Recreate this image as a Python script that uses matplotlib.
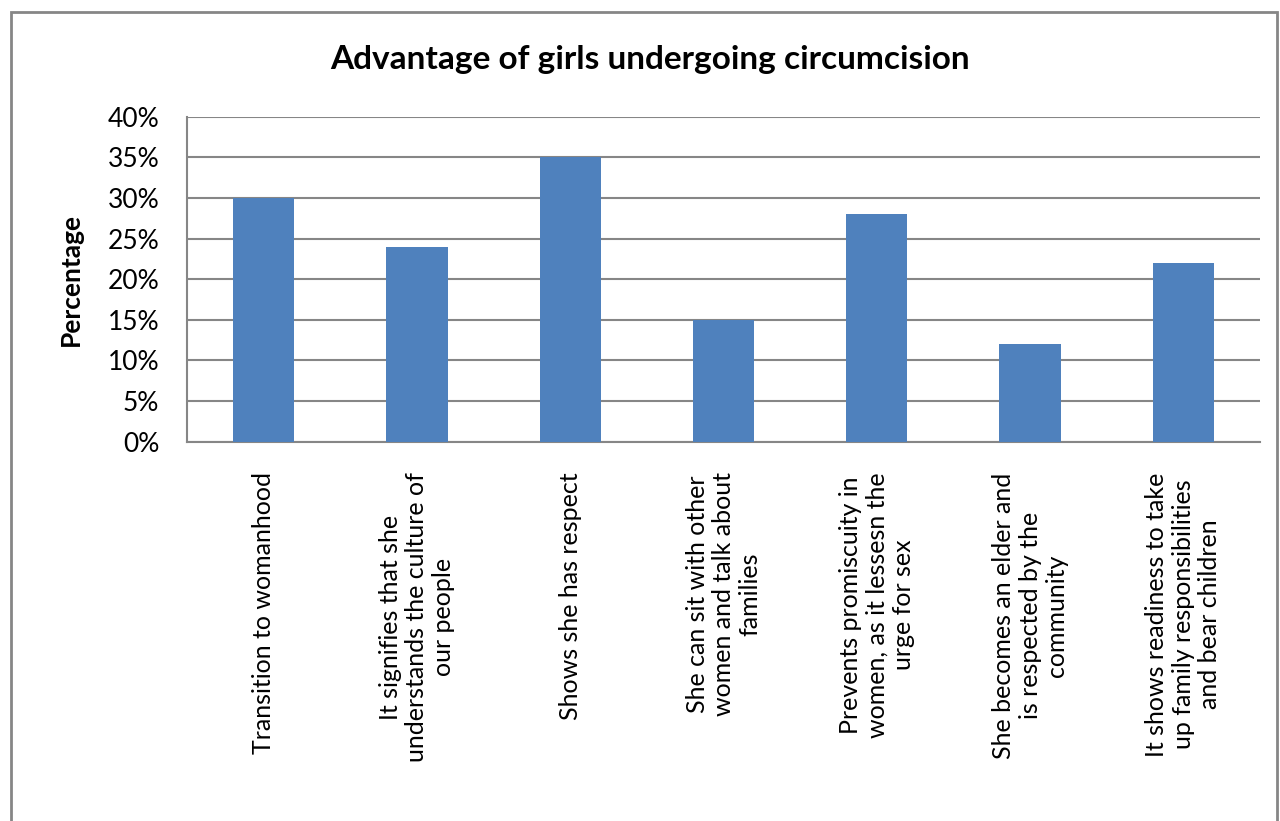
import matplotlib.pyplot as plt
from matplotlib.patches import Rectangle
from matplotlib.ticker import PercentFormatter

categories = [
    "Transition to womanhood",
    "It signifies that she\nunderstands the culture of\nour people",
    "Shows she has respect",
    "She can sit with other\nwomen and talk about\nfamilies",
    "Prevents promiscuity in\nwomen, as it lessesn the\nurge for sex",
    "She becomes an elder and\nis respected by the\ncommunity",
    "It shows readiness to take\nup family responsibilities\nand bear children",
]
values = [30, 24, 35, 15, 28, 12, 22]
yticks = [0, 5, 10, 15, 20, 25, 30, 35, 40]

plt.rcParams['font.family'] = ['Lato', 'DejaVu Sans']
grid_col = '#868686'

fig = plt.figure(figsize=(12.8, 8.21), dpi=100)
ax = fig.add_axes([187 / 1280, 1 - 441.7 / 821, (1260 - 187) / 1280, 325 / 821])

x = range(len(values))
ax.bar(x, values, width=0.4, color='#4F81BD', zorder=3)

ax.set_xlim(-0.5, len(values) - 0.5)
ax.set_ylim(0, 40)
ax.set_yticks(yticks)
ax.yaxis.set_major_formatter(PercentFormatter(decimals=0))
ax.grid(axis='y', color=grid_col, linewidth=1.5, zorder=0)
ax.set_axisbelow(True)

for s in ['top', 'right']:
    ax.spines[s].set_visible(False)
for s in ['left', 'bottom']:
    ax.spines[s].set_color(grid_col)
    ax.spines[s].set_linewidth(1.5)

ax.tick_params(axis='y', length=0, pad=20, labelsize=19, labelcolor='black')
ax.tick_params(axis='x', length=0, pad=22)
ax.set_xticks(list(x))
ax.set_xticklabels(categories, rotation=90, fontsize=18, ha='center',
                   va='top', multialignment='center', linespacing=1.18)

ax.set_ylabel('Percentage', fontsize=19, fontweight='bold', labelpad=18)
fig.text(0.508, 1 - 59 / 821, 'Advantage of girls undergoing circumcision',
         ha='center', va='center', fontsize=24, fontweight='bold')

fig.patches.append(Rectangle((11 / 1280, -0.1), (1277 - 11) / 1280, 1.1 - 12.5 / 821,
                             transform=fig.transFigure, fill=False,
                             edgecolor=grid_col, linewidth=2))

fig.savefig('out.png', dpi=100)
